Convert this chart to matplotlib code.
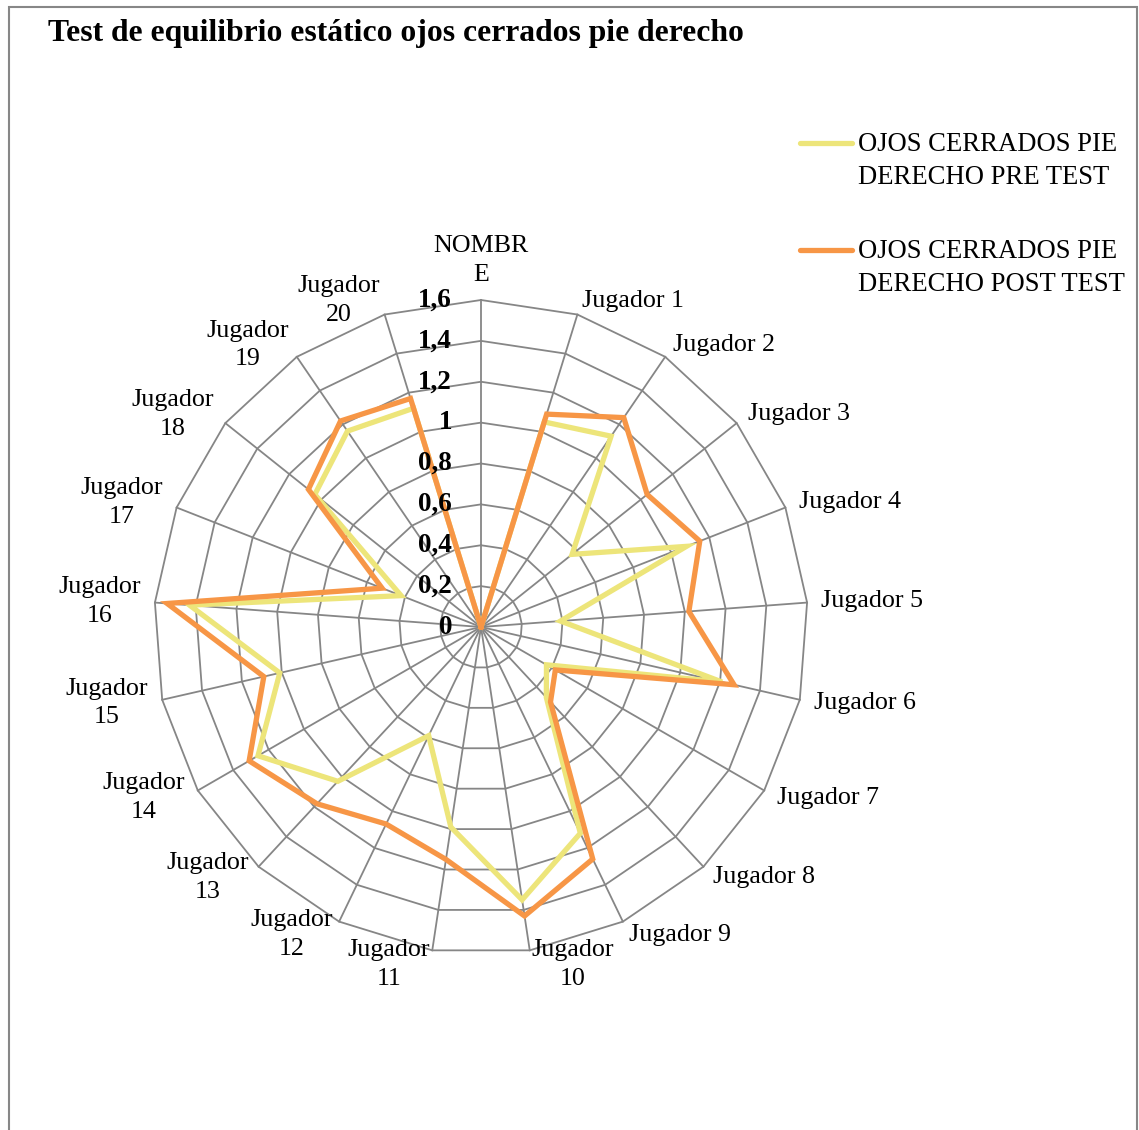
import numpy as np
import matplotlib
matplotlib.use("Agg")
from matplotlib import pyplot as plt
from matplotlib.lines import Line2D
from matplotlib.patches import Rectangle

plt.rcParams["font.family"] = ["Liberation Serif", "DejaVu Serif"]

# data
categories = ["NOMBRE"] + [f"Jugador {i}" for i in range(1, 21)]
axis_labels = ["NOMBR\nE"] + [f"Jugador {i}" for i in range(1, 10)] + \
              [f"Jugador\n{i}" for i in range(10, 21)]
pre_test = [0, 1.05, 1.13, 0.57, 1.08, 0.39, 1.21, 0.37, 0.47, 1.12, 1.35,
            0.99, 0.59, 1.03, 1.26, 1.01, 1.43, 0.42, 1.04, 1.16, 1.12]
post_test = [0, 1.09, 1.24, 1.04, 1.15, 1.02, 1.27, 0.42, 0.50, 1.26, 1.43,
             1.15, 1.07, 1.18, 1.31, 1.09, 1.54, 0.52, 1.08, 1.22, 1.17]
r_ticks = [0, 0.2, 0.4, 0.6, 0.8, 1.0, 1.2, 1.4, 1.6]
r_tick_labels = ["0", "0,2", "0,4", "0,6", "0,8", "1", "1,2", "1,4", "1,6"]
series_names = ["OJOS CERRADOS PIE\nDERECHO PRE TEST",
                "OJOS CERRADOS PIE\nDERECHO POST TEST"]
series_colors = ["#EDE57A", "#F79646"]

W, H = 1139, 1130
fig = plt.figure(figsize=(W / 100, H / 100), dpi=100)

# chart frame
fig.add_artist(Rectangle((8.5 / W, -0.02), (1136.5 - 8.5) / W, 1 - 7.5 / H + 0.02,
                         transform=fig.transFigure, fill=False,
                         edgecolor="#878787", lw=1.5))

fig.text(48 / W, 1 - 34 / H, "Test de equilibrio estático ojos cerrados pie derecho",
         ha="left", va="center", fontsize=22.8, fontweight="bold")

cx, cy, rad = 481, 627, 327
ax = fig.add_axes([(cx - rad) / W, (H - cy - rad) / H, 2 * rad / W, 2 * rad / H],
                  projection="polar")
ax.set_theta_zero_location("N")
ax.set_theta_direction(-1)
ax.set_ylim(0, 1.6)
ax.grid(False)
ax.set_xticks([])
ax.set_yticks([])
ax.spines["polar"].set_visible(False)
ax.patch.set_visible(False)

n = len(categories)
theta = np.arange(n) * 2 * np.pi / n
theta_c = np.append(theta, theta[0])
grid_col = "#868686"

for r in r_ticks[1:]:
    ax.plot(theta_c, [r] * (n + 1), color=grid_col, lw=1.3, clip_on=False, zorder=1)
for t in theta:
    ax.plot([t, t], [0, 1.6], color=grid_col, lw=1.3, clip_on=False, zorder=1)

for vals, col in zip([pre_test, post_test], series_colors):
    ax.plot(theta_c, vals + vals[:1], color=col, lw=3.8, clip_on=False, zorder=3,
            solid_joinstyle="miter")

for r, lbl in zip(r_ticks, r_tick_labels):
    ax.annotate(lbl, xy=(0, r), xytext=(-29, 0), textcoords="offset pixels",
                ha="right", va="center", fontsize=19.5, fontweight="bold", zorder=4)

for t, lbl in zip(theta, axis_labels):
    s = np.sin(t)
    if s > 0.01:
        ha = "left"
    elif s < -0.01:
        ha = "right"
    else:
        ha = "center"
    va = "bottom" if abs(t) < 1e-6 else "center"
    ax.text(t, 1.67, lbl, ha=ha, va=va, multialignment="center", fontsize=18.7,
            linespacing=1.4)

# legend
for i, (name, col) in enumerate(zip(series_names, series_colors)):
    y = 143 + i * 107
    fig.add_artist(Line2D([800 / W, 852 / W], [1 - y / H, 1 - y / H], color=col,
                          lw=3.8, solid_capstyle="round", transform=fig.transFigure))
    fig.text(858 / W, 1 - (y + 18) / H, name, ha="left", va="center", fontsize=19.2,
             linespacing=1.4)

fig.savefig("out.png", dpi=100)
